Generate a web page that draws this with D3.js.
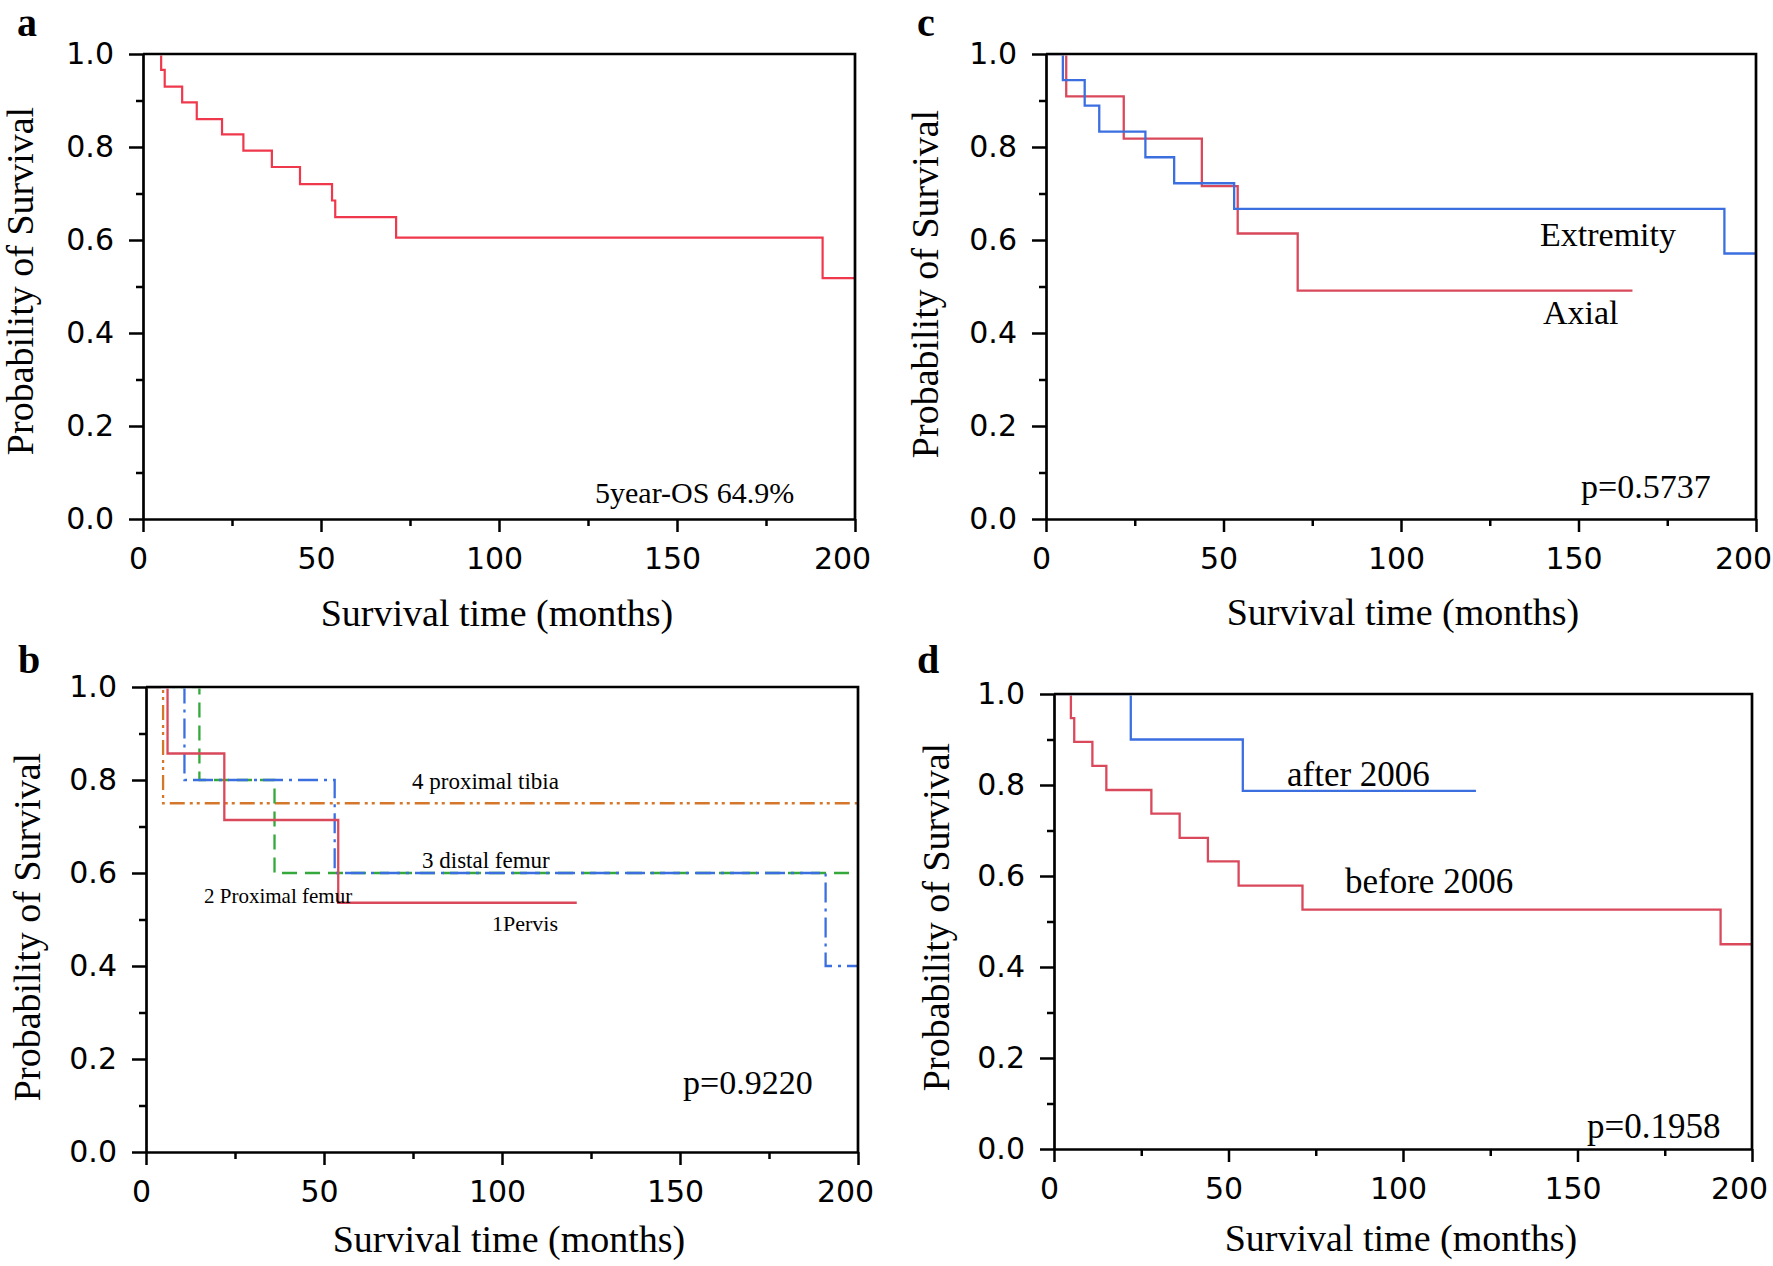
<!DOCTYPE html>
<html>
<head>
<meta charset="utf-8">
<script src="https://cdn.jsdelivr.net/npm/d3@7"></script>
<style>
  html, body { margin: 0; padding: 0; background: #ffffff; }
  svg { display: block; }
  .tick text { font-family: "DejaVu Sans", sans-serif; font-size: 30px; fill: #000; }
  .serif { font-family: "Liberation Serif", "Times New Roman", serif; fill: #000; }
</style>
</head>
<body>
<svg id="chart" width="1773" height="1266"></svg>
<script>
// ---------- data ----------
const xMajorTicks = [0, 50, 100, 150, 200];
const xMinorTicks = [25, 75, 125, 175];
const yMajorTicks = [0.0, 0.2, 0.4, 0.6, 0.8, 1.0];
const yMinorTicks = [0.1, 0.3, 0.5, 0.7, 0.9];

// panel a: overall survival
const overallTimes = [0, 5.1, 6.1, 11.0, 15.1, 22.2, 28.2, 36.2, 44.1, 53.1, 54.0, 71.1, 190.9, 200];
const overallSurv  = [1, 0.966, 0.930, 0.896, 0.860, 0.827, 0.792, 0.757, 0.720, 0.685, 0.649, 0.605, 0.518, 0.518];

// panel c: extremity vs axial
const extremityTimes = [0, 4.75, 10.9, 15.0, 28.0, 36.1, 53.0, 191.1, 200];
const extremitySurv  = [1, 0.944, 0.889, 0.833, 0.778, 0.722, 0.667, 0.571, 0.571];
const axialTimes = [0, 5.7, 21.9, 43.9, 54.0, 70.9, 165.2];
const axialSurv  = [1, 0.909, 0.818, 0.716, 0.614, 0.491, 0.491];

// panel b: by site
const pelvisTimes = [0, 6.05, 22.0, 54.0, 121.0];
const pelvisSurv  = [1, 0.857, 0.714, 0.536, 0.536];
const proxFemurTimes = [0, 15.0, 36.1, 200];
const proxFemurSurv  = [1, 0.800, 0.600, 0.600];
const distalFemurTimes = [0, 10.8, 53.0, 190.9, 200];
const distalFemurSurv  = [1, 0.800, 0.600, 0.400, 0.400];
const proxTibiaTimes = [0, 4.8, 200];
const proxTibiaSurv  = [1, 0.750, 0.750];

// panel d: by era
const after2006Times = [0, 22.0, 54.1, 120.9];
const after2006Surv  = [1, 0.900, 0.787, 0.787];
const before2006Times = [0, 4.84, 5.8, 11.0, 15.0, 27.9, 36.0, 44.1, 52.9, 71.2, 191.0, 200];
const before2006Surv  = [1, 0.947, 0.895, 0.842, 0.789, 0.737, 0.684, 0.632, 0.579, 0.526, 0.450, 0.450];

const xTitle = "Survival time (months)";
const yTitle = "Probability of Survival";

// ---------- drawing ----------
const svg = d3.select("#chart");
const defs = svg.append("defs");

function toPts(times, surv) { return times.map((t, i) => ({ t: t, s: surv[i] })); }

function drawPanel(cfg) {
  const g = svg.append("g");
  const x = d3.scaleLinear().domain([0, 200]).range([cfg.left, cfg.right]);
  const y = d3.scaleLinear().domain([0, 1]).range([cfg.bottom, cfg.top]);

  const clipId = "clip-" + cfg.letter;
  defs.append("clipPath").attr("id", clipId)
    .append("rect")
    .attr("x", cfg.left + 1.4).attr("y", cfg.top + 1.4)
    .attr("width", cfg.right - cfg.left + 4).attr("height", cfg.bottom - cfg.top);

  // minor ticks
  g.append("g").attr("transform", `translate(0,${cfg.bottom})`)
    .call(d3.axisBottom(x).tickValues(xMinorTicks).tickSize(7).tickFormat(""))
    .call(s => s.select(".domain").remove())
    .call(s => s.selectAll("line").attr("stroke", "#000").attr("stroke-width", 2.5));
  g.append("g").attr("transform", `translate(${cfg.left},0)`)
    .call(d3.axisLeft(y).tickValues(yMinorTicks).tickSize(7).tickFormat(""))
    .call(s => s.select(".domain").remove())
    .call(s => s.selectAll("line").attr("stroke", "#000").attr("stroke-width", 2.5));

  // major x axis
  g.append("g").attr("transform", `translate(0,${cfg.bottom})`)
    .call(d3.axisBottom(x).tickValues(xMajorTicks).tickSize(13).tickSizeOuter(0).tickPadding(16).tickFormat(d3.format("d")))
    .call(s => s.select(".domain").attr("stroke", "#000").attr("stroke-width", 2.7))
    .call(s => s.selectAll("line").attr("stroke", "#000").attr("stroke-width", 2.5))
    .call(s => s.selectAll("text").attr("dx", d => d === 200 ? -13 : -5));

  // major y axis
  g.append("g").attr("transform", `translate(${cfg.left},0)`)
    .call(d3.axisLeft(y).tickValues(yMajorTicks).tickSize(14).tickSizeOuter(0).tickPadding(15).tickFormat(d3.format(".1f")))
    .call(s => s.select(".domain").attr("stroke", "#000").attr("stroke-width", 2.7))
    .call(s => s.selectAll("line").attr("stroke", "#000").attr("stroke-width", 2.5));

  const line = d3.line().x(d => x(d.t)).y(d => y(d.s)).curve(d3.curveStepAfter);

  const curves = g.append("g").attr("clip-path", `url(#${clipId})`);
  cfg.series.forEach(sr => {
    curves.append("path")
      .datum(toPts(sr.times, sr.surv))
      .attr("d", line)
      .attr("fill", "none")
      .attr("stroke", sr.color)
      .attr("stroke-width", sr.width || 2.3)
      .attr("stroke-dasharray", sr.dash || null);
  });

  // frame (top & right) drawn on top
  g.append("path")
    .attr("d", `M${cfg.left},${cfg.top}H${cfg.right}V${cfg.bottom}`)
    .attr("fill", "none").attr("stroke", "#000").attr("stroke-width", 2.7);

  // titles
  g.append("text").attr("class", "serif")
    .attr("x", cfg.xTitleX).attr("y", cfg.xTitleY)
    .attr("text-anchor", "middle").attr("font-size", 38)
    .text(xTitle);
  g.append("text").attr("class", "serif")
    .attr("transform", `translate(${cfg.yTitleX},${cfg.yTitleY}) rotate(-90)`)
    .attr("text-anchor", "middle").attr("font-size", 38)
    .text(yTitle);

  // panel letter
  g.append("text").attr("class", "serif")
    .attr("x", cfg.letterX).attr("y", cfg.letterY)
    .attr("font-size", 40).attr("font-weight", "bold")
    .text(cfg.letter);

  // annotations
  cfg.labels.forEach(lb => {
    g.append("text").attr("class", "serif")
      .attr("x", lb.x).attr("y", lb.y)
      .attr("font-size", lb.size)
      .text(lb.text);
  });
}

const RED_A = "#f0384c";
const RED = "#d9485b";
const BLUE = "#3b6fe0";
const GREEN = "#35a83b";
const ORANGE = "#d5772a";

drawPanel({
  letter: "a", letterX: 17, letterY: 36,
  left: 143, right: 855, top: 54, bottom: 519,
  xTitleX: 497, xTitleY: 626, yTitleX: 33, yTitleY: 281,
  series: [{ times: overallTimes, surv: overallSurv, color: RED_A, width: 2.2 }],
  labels: [{ text: "5year-OS 64.9%", x: 595, y: 503, size: 30 }]
});

drawPanel({
  letter: "c", letterX: 917, letterY: 36,
  left: 1046, right: 1756, top: 54, bottom: 519,
  xTitleX: 1403, xTitleY: 625, yTitleX: 938, yTitleY: 284,
  series: [
    { times: axialTimes, surv: axialSurv, color: RED },
    { times: extremityTimes, surv: extremitySurv, color: BLUE }
  ],
  labels: [
    { text: "Extremity", x: 1540, y: 246, size: 34 },
    { text: "Axial", x: 1543, y: 324, size: 34 },
    { text: "p=0.5737", x: 1581, y: 498, size: 34 }
  ]
});

drawPanel({
  letter: "b", letterX: 18, letterY: 673,
  left: 146, right: 858, top: 687, bottom: 1152,
  xTitleX: 509, xTitleY: 1252, yTitleX: 40, yTitleY: 927,
  series: [
    { times: proxTibiaTimes, surv: proxTibiaSurv, color: ORANGE, dash: "15,5,3,4,3,5" },
    { times: proxFemurTimes, surv: proxFemurSurv, color: GREEN, dash: "15,8" },
    { times: distalFemurTimes, surv: distalFemurSurv, color: BLUE, dash: "20,6,3,6" },
    { times: pelvisTimes, surv: pelvisSurv, color: RED }
  ],
  labels: [
    { text: "4 proximal tibia", x: 412, y: 789, size: 23 },
    { text: "3 distal femur", x: 422, y: 868, size: 23 },
    { text: "2 Proximal femur", x: 204, y: 903, size: 21 },
    { text: "1Pervis", x: 492, y: 931, size: 22 },
    { text: "p=0.9220", x: 683, y: 1094, size: 34 }
  ]
});

drawPanel({
  letter: "d", letterX: 917, letterY: 673,
  left: 1054, right: 1752, top: 694, bottom: 1149,
  xTitleX: 1401, xTitleY: 1251, yTitleX: 949, yTitleY: 917,
  series: [
    { times: before2006Times, surv: before2006Surv, color: RED },
    { times: after2006Times, surv: after2006Surv, color: BLUE }
  ],
  labels: [
    { text: "after 2006", x: 1287, y: 786, size: 35 },
    { text: "before 2006", x: 1345, y: 893, size: 35 },
    { text: "p=0.1958", x: 1587, y: 1138, size: 35 }
  ]
});
</script>
</body>
</html>
